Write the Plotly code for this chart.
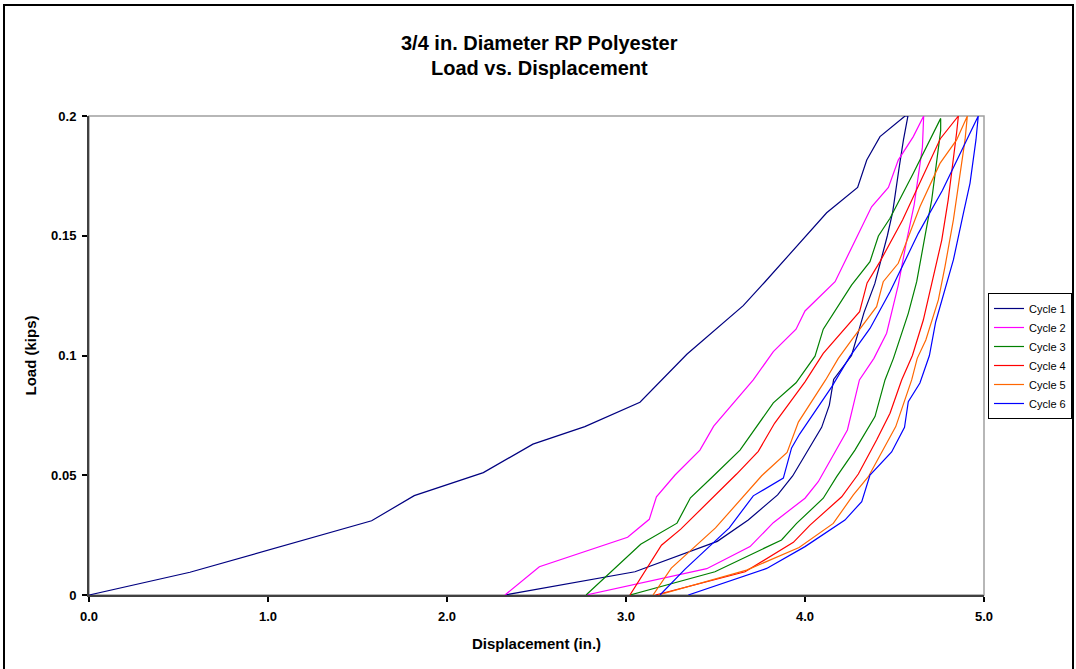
import plotly.graph_objects as go

# ---------------- data ----------------
cycle_names = ["Cycle 1", "Cycle 2", "Cycle 3", "Cycle 4", "Cycle 5", "Cycle 6"]

cycle1_disp = [0.0, 0.564, 1.579, 1.817, 2.203, 2.48, 2.77, 3.078, 3.34, 3.655, 3.777, 4.121, 4.294, 4.345, 4.419, 4.559,
               4.575, 4.55, 4.525, 4.49, 4.46, 4.39, 4.33, 4.26, 4.16, 4.136, 4.093, 3.931, 3.847, 3.683, 3.51, 3.05, 2.324]
cycle1_load = [0.0, 0.0095, 0.031, 0.0415, 0.0511, 0.063, 0.0703, 0.0805, 0.1005, 0.1208, 0.1308, 0.1596, 0.1702, 0.1816, 0.1914, 0.2,
               0.2, 0.19, 0.178, 0.16, 0.15, 0.13, 0.118, 0.1, 0.09, 0.0793, 0.070, 0.0497, 0.0418, 0.0313, 0.0224, 0.0097, 0.0]

cycle2_disp = [2.324, 2.516, 3.009, 3.13, 3.17, 3.274, 3.413, 3.49, 3.711, 3.823, 3.95, 4.0, 4.168, 4.372, 4.466, 4.521, 4.605, 4.661,
               4.663, 4.656, 4.61, 4.568, 4.521, 4.456, 4.385, 4.304, 4.237, 4.074, 4.0, 3.823, 3.693, 3.451, 2.777]
cycle2_load = [0.0, 0.0118, 0.0241, 0.0316, 0.041, 0.0501, 0.0605, 0.0705, 0.0898, 0.1016, 0.111, 0.1186, 0.1308, 0.1621, 0.1702, 0.1816, 0.1914, 0.2,
               0.2, 0.187, 0.163, 0.148, 0.1294, 0.1093, 0.0988, 0.0898, 0.0689, 0.0473, 0.0404, 0.0302, 0.0202, 0.011, 0.0]

cycle3_disp = [2.777, 3.082, 3.285, 3.36, 3.488, 3.637, 3.823, 3.95, 4.056, 4.102, 4.26, 4.363, 4.41, 4.475, 4.605, 4.758,
               4.758, 4.735, 4.708, 4.68, 4.624, 4.577, 4.494, 4.447, 4.391, 4.279, 4.177, 4.102, 3.953, 3.869, 3.497, 3.022]
cycle3_load = [0.0, 0.0212, 0.030, 0.0406, 0.0497, 0.0605, 0.0802, 0.0886, 0.0997, 0.111, 0.1294, 0.1392, 0.1499, 0.1573, 0.1761, 0.199,
               0.194, 0.1816, 0.165, 0.1538, 0.1308, 0.1176, 0.0988, 0.0898, 0.0745, 0.0605, 0.0494, 0.0404, 0.0299, 0.023, 0.0097, 0.0]

cycle4_disp = [3.022, 3.198, 3.306, 3.618, 3.739, 3.83, 4.0, 4.102, 4.305, 4.347, 4.419, 4.545, 4.756, 4.857,
               4.847, 4.829, 4.80, 4.764, 4.708, 4.661, 4.60, 4.54, 4.475, 4.40, 4.298, 4.205, 4.028, 3.935, 3.665, 3.165]
cycle4_load = [0.0, 0.0208, 0.0275, 0.0505, 0.060, 0.0717, 0.089, 0.1009, 0.1183, 0.1303, 0.1392, 0.1566, 0.1905, 0.2,
               0.193, 0.1816, 0.165, 0.1482, 0.1294, 0.1148, 0.1, 0.0898, 0.0759, 0.0647, 0.0505, 0.041, 0.0292, 0.022, 0.0097, 0.0]

cycle5_disp = [3.151, 3.253, 3.50, 3.758, 3.90, 3.963, 4.115, 4.186, 4.261, 4.40, 4.437, 4.521, 4.642, 4.754, 4.847, 4.907,
               4.894, 4.866, 4.829, 4.782, 4.745, 4.675, 4.627, 4.596, 4.507, 4.354, 4.27, 4.158, 3.967, 3.674, 3.18]
cycle5_load = [0.0, 0.0112, 0.028, 0.0498, 0.0595, 0.0722, 0.0898, 0.0988, 0.1065, 0.1204, 0.1308, 0.1385, 0.1621, 0.1802, 0.19, 0.2,
               0.19, 0.1747, 0.1566, 0.1371, 0.1232, 0.1065, 0.0988, 0.0898, 0.0703, 0.0494, 0.0418, 0.0299, 0.0198, 0.0104, 0.0]

cycle6_disp = [3.19, 3.33, 3.577, 3.711, 3.879, 3.925, 3.97, 4.15, 4.25, 4.363, 4.475, 4.633, 4.768, 4.968,
               4.955, 4.922, 4.885, 4.829, 4.73, 4.695, 4.642, 4.577, 4.556, 4.484, 4.363, 4.317, 4.223, 4.0, 3.786, 3.348]
cycle6_load = [0.0, 0.0108, 0.028, 0.0414, 0.0488, 0.0614, 0.0672, 0.087, 0.0995, 0.1113, 0.1266, 0.151, 0.169, 0.2,
               0.19, 0.172, 0.1594, 0.1399, 0.114, 0.1, 0.0885, 0.0807, 0.070, 0.0597, 0.0501, 0.039, 0.0313, 0.0202, 0.0111, 0.0]

x_ticks = [0, 1, 2, 3, 4, 5]
y_ticks = [0, 0.05, 0.1, 0.15, 0.2]
y_tick_text = ["0", "0.05", "0.1", "0.15", "0.2"]

# ---------------- styles ----------------
colors = ["#000080", "#FF00FF", "#008000", "#FF0000", "#FF6600", "#0000FF"]
FONT = "Liberation Sans, Arial, sans-serif"

W, H = 1076, 669
L, R, T, B = 89, 984, 116, 595   # plot-area pixel box


def px_x(p):
    return (p - L) / (R - L)


def px_y(p):
    return (B - p) / (B - T)


series = [
    (cycle1_disp, cycle1_load), (cycle2_disp, cycle2_load), (cycle3_disp, cycle3_load),
    (cycle4_disp, cycle4_load), (cycle5_disp, cycle5_load), (cycle6_disp, cycle6_load),
]

fig = go.Figure()
for name, (xs, ys), c in zip(cycle_names, series, colors):
    fig.add_trace(go.Scatter(x=xs, y=ys, mode="lines", name=name,
                             line=dict(color=c, width=1.2)))

axis_common = dict(showgrid=False, zeroline=False, showline=True, linecolor="#404040", linewidth=2,
                   ticks="outside", ticklen=5, tickwidth=1.5, tickcolor="#000000",
                   tickfont=dict(family=FONT, size=13, color="#000000", weight="bold"))

fig.update_layout(
    width=W, height=H, autosize=False,
    margin=dict(l=L, r=W - R, t=T, b=H - B, pad=0, autoexpand=False),
    paper_bgcolor="white", plot_bgcolor="white",
    font=dict(family=FONT, color="#000000"),
    showlegend=True,
    legend=dict(x=px_x(1072), y=px_y(356), xanchor="right", yanchor="middle",
                bordercolor="#000000", borderwidth=1, bgcolor="white",
                font=dict(family=FONT, size=11, color="#000000"), tracegroupgap=0),
    xaxis=dict(range=[0, 5], tickvals=x_ticks, tickformat=".1f", ticklabelstandoff=3,
               title=dict(text="Displacement (in.)", standoff=16,
                          font=dict(family=FONT, size=15, weight="bold")),
               **axis_common),
    yaxis=dict(range=[0, 0.2], tickvals=y_ticks, ticktext=y_tick_text, ticklabelstandoff=3,
               title=dict(text="Load (kips)", standoff=11,
                          font=dict(family=FONT, size=15, weight="bold")),
               **axis_common),
    shapes=[
        # grey plot-area frame
        dict(type="rect", xref="paper", yref="paper", x0=0, y0=0, x1=1, y1=1,
             line=dict(color="#A0A0A0", width=1.5), layer="below"),
        # outer chart border
        dict(type="rect", xref="paper", yref="paper", x0=px_x(4), x1=px_x(1073),
             y0=px_y(700), y1=px_y(5), line=dict(color="#000000", width=2)),
    ],
    annotations=[
        dict(text="<b>3/4 in. Diameter RP Polyester</b>", xref="paper", yref="paper",
             x=px_x(539), y=px_y(43), xanchor="center", yanchor="middle", showarrow=False,
             font=dict(family=FONT, size=20, color="#000000")),
        dict(text="<b>Load vs. Displacement</b>", xref="paper", yref="paper",
             x=px_x(539), y=px_y(68), xanchor="center", yanchor="middle", showarrow=False,
             font=dict(family=FONT, size=20, color="#000000")),
    ],
)

fig.write_html("out.html")
